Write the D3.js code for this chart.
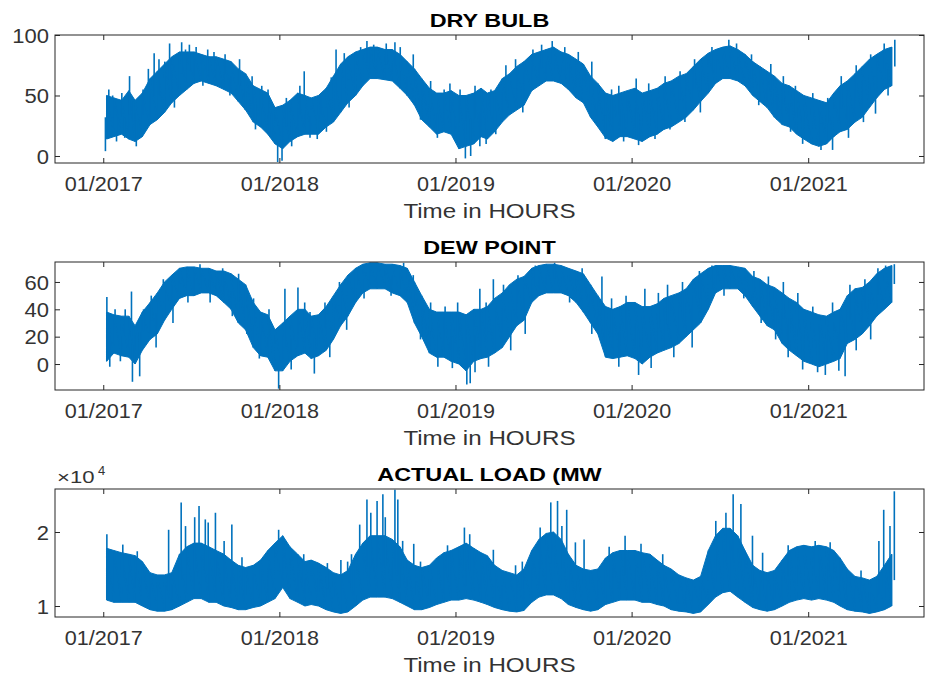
<!DOCTYPE html>
<html>
<head>
<meta charset="utf-8">
<script src="https://cdn.jsdelivr.net/npm/d3@7"></script>
<style>
  html, body { margin: 0; padding: 0; background: #fff; }
  svg { display: block; font-family: "Liberation Sans", Arial, sans-serif; }
</style>
</head>
<body>
<svg id="fig" width="929" height="679"></svg>
<script>
// ---- half-month envelopes, Jan 2017 .. Jun 2021 (108 periods) ----
// Dry bulb temperature (°F): lower / upper edge of the hourly band
const dryBulbLow = [
  14,16,18,14,12,16,26,30,36,44,50,55,60,62,60,58,55,52,45,38,28,24,18,10,
  6,12,16,18,18,18,24,28,36,44,50,58,64,64,63,62,56,50,42,30,24,18,20,18,
  6,8,10,16,14,20,28,34,38,42,54,58,62,62,60,55,48,44,32,24,15,12,16,16,
  14,12,16,18,22,24,28,32,38,45,52,60,64,64,62,58,50,45,40,32,26,24,18,14,
  10,8,10,16,20,22,28,32,40,48,55,58
];
const dryBulbHigh = [
  50,48,46,54,46,52,64,70,76,82,86,86,86,84,82,82,80,78,72,68,58,55,52,40,
  42,46,52,50,48,50,56,66,76,82,86,88,90,90,88,88,84,78,72,64,56,52,52,54,
  50,50,52,56,52,54,64,68,74,78,84,86,88,90,86,84,80,76,66,60,52,50,52,54,
  56,52,54,56,60,62,66,68,74,80,85,88,90,91,88,84,78,74,70,66,60,58,54,50,
  48,46,44,52,58,62,68,74,80,84,88,90
];
// Individual hourly extremes standing out of the band
const dryBulbPeaks = [
  ["2017-01-05", 4], ["2017-01-12", 55], ["2017-01-20", 50], ["2017-01-28", 12],
  ["2017-02-08", 52], ["2017-02-14", 15], ["2017-02-24", 66], ["2017-03-04", 45],
  ["2017-03-10", 8], ["2017-03-24", 55], ["2017-04-04", 72], ["2017-04-16", 85],
  ["2017-04-26", 80], ["2017-05-08", 78], ["2017-05-18", 93], ["2017-05-28", 40],
  ["2017-06-12", 94], ["2017-06-20", 88], ["2017-06-28", 92], ["2017-07-12", 90],
  ["2017-07-26", 58], ["2017-08-05", 88], ["2017-08-18", 86], ["2017-09-10", 84],
  ["2017-09-20", 50], ["2017-10-10", 80], ["2017-10-22", 38], ["2017-11-05", 66],
  ["2017-11-12", 22], ["2017-11-25", 58], ["2017-12-08", 55], ["2017-12-15", 15],
  ["2017-12-28", -5], ["2018-01-06", -4], ["2018-01-15", 48], ["2018-01-26", 8],
  ["2018-02-12", 58], ["2018-02-21", 70], ["2018-03-05", 15], ["2018-03-20", 14],
  ["2018-03-28", 50], ["2018-04-08", 20], ["2018-04-18", 65], ["2018-04-28", 88],
  ["2018-05-15", 85], ["2018-05-25", 40], ["2018-06-18", 90], ["2018-07-01", 95],
  ["2018-07-15", 92], ["2018-08-10", 93], ["2018-08-28", 94], ["2018-09-08", 90],
  ["2018-09-22", 50], ["2018-10-05", 84], ["2018-10-20", 30], ["2018-11-10", 62],
  ["2018-11-24", 15], ["2018-12-08", 55], ["2018-12-20", 60], ["2018-12-28", 14],
  ["2019-01-10", 55], ["2019-01-21", -2], ["2019-02-01", 0], ["2019-02-10", 58],
  ["2019-02-20", 8], ["2019-03-05", 10], ["2019-03-15", 55], ["2019-03-25", 18],
  ["2019-04-15", 75], ["2019-05-05", 80], ["2019-05-20", 36], ["2019-06-10", 88],
  ["2019-06-28", 92], ["2019-07-20", 95], ["2019-08-15", 90], ["2019-09-12", 86],
  ["2019-09-28", 42], ["2019-10-10", 78], ["2019-10-25", 25], ["2019-11-07", 14],
  ["2019-11-20", 55], ["2019-12-05", 58], ["2019-12-15", 12], ["2020-01-10", 64],
  ["2020-01-15", 9], ["2020-02-05", 60], ["2020-02-18", 14], ["2020-03-10", 66],
  ["2020-03-20", 22], ["2020-04-10", 70], ["2020-04-20", 28], ["2020-05-10", 80],
  ["2020-05-22", 36], ["2020-06-15", 90], ["2020-07-20", 96], ["2020-08-05", 93],
  ["2020-09-05", 84], ["2020-09-20", 42], ["2020-10-15", 76], ["2020-10-28", 30],
  ["2020-11-10", 66], ["2020-11-25", 20], ["2020-12-05", 58], ["2020-12-20", 10],
  ["2021-01-10", 52], ["2021-01-27", 5], ["2021-02-10", 48], ["2021-02-20", 5],
  ["2021-03-10", 66], ["2021-03-25", 15], ["2021-04-10", 75], ["2021-04-25", 28],
  ["2021-05-10", 84], ["2021-05-20", 35], ["2021-06-07", 93], ["2021-06-15", 50],
  ["2021-06-29", 96]
];

// Dew point (°F)
const dewPointLow = [
  2,8,6,5,0,10,18,22,32,40,48,50,50,52,52,50,45,40,30,25,12,6,5,-5,
  -5,2,6,8,4,6,10,18,28,35,45,52,55,55,55,52,50,45,30,20,8,5,5,2,
  0,-5,2,4,5,8,12,20,28,32,45,50,52,52,52,50,45,38,30,22,5,4,5,6,
  4,0,5,8,10,12,15,20,25,30,40,52,55,55,55,50,42,35,28,25,15,10,6,2,
  0,-2,0,2,4,15,18,22,28,35,40,45
];
const dewPointHigh = [
  38,36,35,35,28,38,45,52,60,65,70,71,71,70,70,68,68,66,62,58,45,38,36,25,
  30,35,40,40,35,36,42,50,58,65,70,73,74,74,73,73,72,70,60,50,40,38,38,38,
  38,36,40,40,42,48,52,58,62,64,70,72,73,73,72,70,68,66,58,50,42,40,42,45,
  45,42,42,44,48,50,52,55,62,66,70,72,72,72,71,70,64,62,58,56,52,48,45,40,
  38,36,35,38,40,50,55,56,60,66,70,72
];
const dewPointPeaks = [
  ["2017-01-08", 49], ["2017-01-14", -2], ["2017-01-25", 40], ["2017-02-05", 2],
  ["2017-02-15", 40], ["2017-02-28", 53], ["2017-03-02", -13], ["2017-03-17", -9],
  ["2017-03-25", 40], ["2017-04-10", 50], ["2017-04-20", 12], ["2017-05-05", 62],
  ["2017-05-25", 30], ["2017-06-10", 68], ["2017-06-25", 45], ["2017-07-20", 73],
  ["2017-08-10", 45], ["2017-09-05", 70], ["2017-09-25", 35], ["2017-10-08", 66],
  ["2017-10-25", 22], ["2017-11-08", 48], ["2017-11-20", 4], ["2017-12-10", 40],
  ["2017-12-20", 0], ["2017-12-30", -18], ["2018-01-12", 55], ["2018-01-25", -4],
  ["2018-02-08", 56], ["2018-02-22", 45], ["2018-03-05", 38], ["2018-03-14", -7],
  ["2018-04-05", 45], ["2018-04-15", 5], ["2018-05-05", 60], ["2018-05-20", 25],
  ["2018-06-10", 70], ["2018-06-25", 48], ["2018-08-20", 50], ["2018-09-15", 74],
  ["2018-10-05", 65], ["2018-10-20", 18], ["2018-11-10", 45], ["2018-11-25", -2],
  ["2018-12-10", 42], ["2018-12-25", -3], ["2019-01-05", 45], ["2019-01-24", -15],
  ["2019-01-31", -14], ["2019-02-10", -6], ["2019-02-20", 55], ["2019-03-05", 45],
  ["2019-03-10", -2], ["2019-03-20", 62], ["2019-04-10", 58], ["2019-04-25", 10],
  ["2019-05-10", 65], ["2019-05-25", 22], ["2019-06-15", 72], ["2019-07-25", 74],
  ["2019-08-25", 45], ["2019-09-20", 70], ["2019-10-10", 22], ["2019-10-31", 64],
  ["2019-11-20", 48], ["2019-12-05", -2], ["2019-12-20", 50], ["2020-01-15", -8],
  ["2020-01-28", 55], ["2020-02-10", -3], ["2020-02-25", 52], ["2020-03-15", 58],
  ["2020-03-28", 5], ["2020-04-15", 60], ["2020-05-05", 12], ["2020-05-20", 68],
  ["2020-06-15", 72], ["2020-07-10", 50], ["2020-08-20", 48], ["2020-09-10", 68],
  ["2020-09-25", 30], ["2020-10-10", 64], ["2020-10-25", 18], ["2020-11-10", 60],
  ["2020-11-20", 5], ["2020-12-10", 52], ["2020-12-20", -4], ["2021-01-10", 42],
  ["2021-01-20", -6], ["2021-02-05", -8], ["2021-02-20", 45], ["2021-03-05", -5],
  ["2021-03-18", -9], ["2021-03-28", 58], ["2021-04-10", 10], ["2021-04-28", 62],
  ["2021-05-10", 18], ["2021-05-25", 70], ["2021-06-10", 72], ["2021-06-28", 73]
];

// Actual load (MW)
const loadLow = [
  10800,10500,10500,10500,10500,10000,9500,9300,9300,9500,10000,10500,11000,11000,10500,10500,10000,9800,9500,9500,9800,10000,10500,11000,
  12500,11000,10500,10000,10200,10000,9500,9200,9000,9200,10000,10800,11200,11200,11200,11000,10500,10000,9500,9500,9800,10200,10500,10800,
  10800,11000,10800,10500,10200,9800,9500,9300,9200,9400,10500,11200,11500,11500,11000,10200,9800,9500,9300,9500,10200,10500,10800,10800,
  10800,10500,10500,10200,10000,9500,9300,9200,9000,9200,10200,11200,11800,12000,11200,10500,9800,9500,9300,9500,10000,10500,10800,11000,
  10800,11000,10800,10500,10000,9500,9300,9200,9000,9200,9500,10000
];
const loadHigh = [
  17800,17500,17200,17000,16800,16000,14500,14200,14200,14500,17000,18000,18500,18500,18000,17500,17000,16200,15500,15200,15500,16200,17500,18500,
  19500,18000,17000,16000,16200,15800,15200,14500,14200,14800,17000,18500,19500,19500,19500,19000,18000,16200,15500,15200,15500,16500,17200,17500,
  18000,18500,17800,17200,16800,15500,14800,14500,14200,15000,17500,19000,19800,20000,19000,17000,15500,15000,14800,15000,16500,17200,17500,17500,
  17500,17200,17000,16200,15500,15000,14200,13800,13500,14000,17500,19500,20500,20500,19500,17500,15500,14800,14500,14800,16200,17500,18000,18200,
  18000,18200,18000,17500,16500,15000,14000,13800,13500,14000,15500,17000
];
const loadPeaks = [
  ["2017-01-08", 19700], ["2017-02-10", 18300], ["2017-03-12", 17400], ["2017-05-16", 20300],
  ["2017-06-11", 24000], ["2017-06-20", 20800], ["2017-07-09", 22000], ["2017-07-18", 23500],
  ["2017-07-31", 21700], ["2017-08-06", 21300], ["2017-08-21", 22600], ["2017-09-08", 18800],
  ["2017-09-24", 21000], ["2017-10-15", 16600], ["2017-12-30", 20300], ["2018-02-20", 17000],
  ["2018-04-10", 15800], ["2018-05-08", 16200], ["2018-05-22", 16000], ["2018-05-30", 17000],
  ["2018-06-16", 21000], ["2018-07-01", 24400], ["2018-07-09", 22600], ["2018-07-22", 24200],
  ["2018-08-03", 25100], ["2018-08-08", 22000], ["2018-08-28", 25700], ["2018-09-03", 24400],
  ["2018-09-13", 18800], ["2018-10-06", 18400], ["2018-10-20", 16000], ["2018-12-15", 18200],
  ["2019-01-19", 20600], ["2019-01-30", 19700], ["2019-03-20", 17600], ["2019-05-05", 15500],
  ["2019-05-19", 16000], ["2019-06-25", 20600], ["2019-07-17", 24000], ["2019-07-31", 24200],
  ["2019-08-09", 20800], ["2019-08-19", 23000], ["2019-09-06", 18600], ["2019-09-24", 19000],
  ["2019-11-15", 18000], ["2019-12-18", 19500], ["2020-01-20", 18400], ["2020-03-05", 17000],
  ["2020-06-23", 21500], ["2020-07-14", 22600], ["2020-07-29", 25100], ["2020-08-14", 23800],
  ["2020-09-07", 19500], ["2020-09-28", 17200], ["2020-11-20", 18200], ["2021-01-15", 18800],
  ["2021-02-15", 18600], ["2021-04-20", 14800], ["2021-05-27", 18800], ["2021-06-06", 23000],
  ["2021-06-19", 20800], ["2021-06-28", 25500]
];

// Axis labels
const xTickLabels = ["01/2017", "01/2018", "01/2019", "01/2020", "01/2021"];
const panelTitles = ["DRY BULB", "DEW POINT", "ACTUAL LOAD (MW"];
const xAxisLabel = "Time in HOURS";
const dryBulbTicks = [0, 50, 100];
const dewPointTicks = [0, 20, 40, 60];
const loadTicks = [10000, 20000];

// ---- drawing ----
const svg = d3.select("#fig");
const blue = "#0072BD";
const axisColor = "#262626";
const textColor = "#333333";

// widen a text run horizontally (the figure's fonts render broad)
function widen(sel, f) {
  sel.each(function () {
    const w = this.getComputedTextLength();
    d3.select(this).attr("textLength", w * f).attr("lengthAdjust", "spacingAndGlyphs");
  });
}

const left = 55, right = 924;
const x = d3.scaleUtc()
  .domain([new Date(Date.UTC(2016, 8, 23)), new Date(Date.UTC(2021, 7, 29))])
  .range([left, right]);

const xTickDates = xTickLabels.map(s => {
  const [m, y] = s.split("/").map(Number);
  return new Date(Date.UTC(y, m - 1, 1));
});

// centre date of each half-month period
const periodDates = d3.range(dryBulbLow.length).map(i => {
  const y = 2017 + Math.floor(i / 24);
  const m = Math.floor((i % 24) / 2);
  return new Date(Date.UTC(y, m, i % 2 ? 23 : 8));
});
function periodIndex(d) {
  return (d.getUTCFullYear() - 2017) * 24 + d.getUTCMonth() * 2 + (d.getUTCDate() >= 16 ? 1 : 0);
}

const panels = [
  { title: panelTitles[0], top: 35, bottom: 163, domain: [-5.79, 100], ticks: dryBulbTicks,
    fmt: d => String(d), lo: dryBulbLow, hi: dryBulbHigh, peaks: dryBulbPeaks },
  { title: panelTitles[1], top: 262, bottom: 390, domain: [-19.0, 74.6], ticks: dewPointTicks,
    fmt: d => String(d), lo: dewPointLow, hi: dewPointHigh, peaks: dewPointPeaks },
  { title: panelTitles[2], top: 489, bottom: 617, domain: [8514, 25811], ticks: loadTicks,
    fmt: d => String(d / 10000), lo: loadLow, hi: loadHigh, peaks: loadPeaks, exponent: 4 }
];

panels.forEach((p, k) => {
  const y = d3.scaleLinear().domain(p.domain).range([p.bottom, p.top]);
  const g = svg.append("g");

  const clipId = "clip" + k;
  svg.append("clipPath").attr("id", clipId)
    .append("rect").attr("x", left).attr("y", p.top)
    .attr("width", right - left).attr("height", p.bottom - p.top);

  const plot = g.append("g").attr("clip-path", `url(#${clipId})`);

  // hourly band
  const band = d3.area()
    .x((d, i) => x(periodDates[i]))
    .y0((d, i) => y(p.lo[i]))
    .y1((d, i) => y(p.hi[i]));
  plot.append("path")
    .datum(periodDates)
    .attr("d", band)
    .attr("fill", blue)
    .attr("stroke", blue)
    .attr("stroke-width", 1)
    .attr("stroke-linejoin", "round");

  // hour-to-hour swing inside the band
  const zig = [];
  periodDates.forEach((d, i) => { zig.push([d, p.lo[i]]); zig.push([d, p.hi[i]]); });
  const line = d3.line().x(d => x(d[0])).y(d => y(d[1]));
  plot.append("path")
    .datum(zig)
    .attr("d", line)
    .attr("fill", "none")
    .attr("stroke", blue)
    .attr("stroke-width", 1.3);

  // isolated extremes
  p.peaks.forEach(([s, v]) => {
    const d = new Date(s + "T12:00:00Z");
    const i = Math.min(Math.max(periodIndex(d), 0), p.lo.length - 1);
    const base = (p.lo[i] + p.hi[i]) / 2;
    plot.append("path")
      .datum([[d, base], [d, v]])
      .attr("d", line)
      .attr("fill", "none")
      .attr("stroke", blue)
      .attr("stroke-width", 1.6);
  });

  // box
  g.append("rect")
    .attr("x", left).attr("y", p.top)
    .attr("width", right - left).attr("height", p.bottom - p.top)
    .attr("fill", "none").attr("stroke", axisColor).attr("stroke-width", 1);

  // x ticks (inside, top and bottom) + labels
  const xb = d3.axisBottom(x).tickValues(xTickDates).tickSize(-5).tickFormat((d, i) => xTickLabels[i]);
  const gx = g.append("g").attr("transform", `translate(0,${p.bottom})`).call(xb);
  gx.select(".domain").remove();
  gx.selectAll(".tick line").attr("stroke", axisColor);
  const xtText = gx.selectAll(".tick text")
    .attr("y", 28).attr("dy", 0)
    .attr("fill", textColor)
    .style("font-size", "20px");
  widen(xtText, 1.08);

  const xt = d3.axisTop(x).tickValues(xTickDates).tickSize(-5).tickFormat("");
  const gxt = g.append("g").attr("transform", `translate(0,${p.top})`).call(xt);
  gxt.select(".domain").remove();
  gxt.selectAll(".tick line").attr("stroke", axisColor);

  // y ticks (inside, left and right) + labels
  const yl = d3.axisLeft(y).tickValues(p.ticks).tickSize(-5).tickFormat(p.fmt);
  const gy = g.append("g").attr("transform", `translate(${left},0)`).call(yl);
  gy.select(".domain").remove();
  gy.selectAll(".tick line").attr("stroke", axisColor);
  const ytText = gy.selectAll(".tick text")
    .attr("x", -6).attr("dy", "0.36em")
    .attr("fill", textColor)
    .style("font-size", "20px");
  widen(ytText, 1.1);

  const yr = d3.axisRight(y).tickValues(p.ticks).tickSize(-5).tickFormat("");
  const gyr = g.append("g").attr("transform", `translate(${right},0)`).call(yr);
  gyr.select(".domain").remove();
  gyr.selectAll(".tick line").attr("stroke", axisColor);

  // title
  const title = g.append("text")
    .attr("x", (left + right) / 2).attr("y", p.top - 8)
    .attr("text-anchor", "middle")
    .attr("fill", "#000")
    .style("font-size", "18px").style("font-weight", "bold")
    .text(p.title);
  widen(title, 1.3);

  // x label
  const xl = g.append("text")
    .attr("x", (left + right) / 2).attr("y", p.bottom + 55)
    .attr("text-anchor", "middle")
    .attr("fill", textColor)
    .style("font-size", "21px")
    .text(xAxisLabel);
  widen(xl, 1.15);

  // exponent marker
  if (p.exponent) {
    const base = g.append("text")
      .attr("x", left + 2).attr("y", p.top - 6)
      .attr("fill", textColor)
      .style("font-size", "17px")
      .text("\u00d710");
    widen(base, 1.3);
    g.append("text")
      .attr("x", left + 43).attr("y", p.top - 14)
      .attr("fill", textColor)
      .style("font-size", "13px")
      .text(String(p.exponent));
  }
});
</script>
</body>
</html>
